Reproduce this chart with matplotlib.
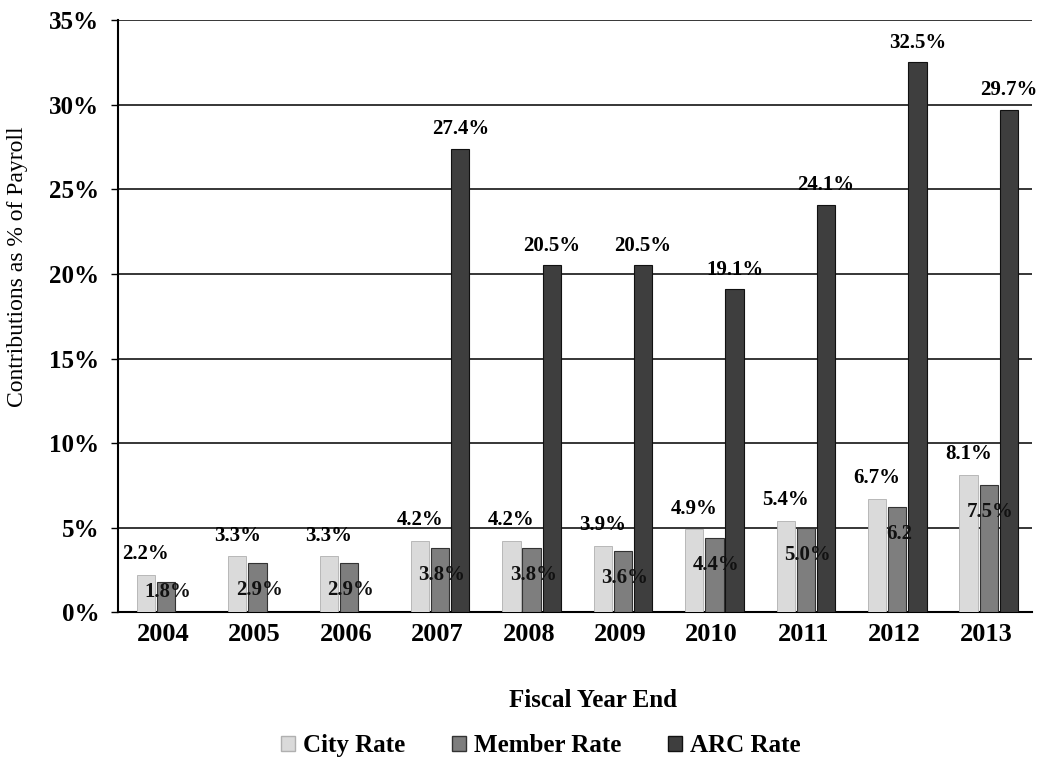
import matplotlib
matplotlib.use("Agg")
import matplotlib.pyplot as plt
from matplotlib.patches import Patch
import numpy as np

years = ["2004", "2005", "2006", "2007", "2008", "2009", "2010", "2011", "2012", "2013"]
city_rate = [2.2, 3.3, 3.3, 4.2, 4.2, 3.9, 4.9, 5.4, 6.7, 8.1]
member_rate = [1.8, 2.9, 2.9, 3.8, 3.8, 3.6, 4.4, 5.0, 6.2, 7.5]
arc_rate = [0, 0, 0, 27.4, 20.5, 20.5, 19.1, 24.1, 32.5, 29.7]
member_labels = ["1.8%", "2.9%", "2.9%", "3.8%", "3.8%", "3.6%", "4.4%", "5.0%", "6.2", "7.5%"]

plt.rcParams["font.family"] = ["Liberation Serif", "DejaVu Serif"]
plt.rcParams["font.weight"] = "bold"

fig = plt.figure(figsize=(10.4, 7.77), dpi=100)
ax = fig.add_axes([0.113, 0.212, 0.879, 0.762])

x = np.arange(len(years))
w = 0.2
off = 0.22
sh = 0.03
ax.bar(x - off + sh, city_rate, w, color="#dadada", edgecolor="#b0b0b0", linewidth=0.6, zorder=3)
ax.bar(x + sh, member_rate, w, color="#7e7e7e", edgecolor="#333333", linewidth=0.8, zorder=3)
ax.bar(x + off + sh, arc_rate, w, color="#3e3e3e", edgecolor="#111111", linewidth=0.8, zorder=3)

for i in range(len(years)):
    ax.annotate(f"{city_rate[i]:.1f}%", (x[i] - off + sh, city_rate[i]), xytext=(0, 15),
                textcoords="offset points", ha="center", va="center", fontsize=15, zorder=5)
    ax.text(x[i] + sh + 0.02, max(member_rate[i] - 1.6, 1.2), member_labels[i], ha="center",
            va="center", fontsize=15, color="#111111", zorder=5)
    if arc_rate[i] > 0:
        ax.annotate(f"{arc_rate[i]:.1f}%", (x[i] + off + sh, arc_rate[i]), xytext=(0, 14),
                    textcoords="offset points", ha="center", va="center", fontsize=15, zorder=5)

ax.set_ylim(0, 35)
ax.set_xlim(-0.5, len(years) - 0.5)
ax.set_yticks(np.arange(0, 36, 5))
ax.set_yticklabels([f"{v}%" for v in range(0, 36, 5)], fontsize=18)
ax.set_xticks(x)
ax.set_xticklabels(years, fontsize=19)
ax.tick_params(axis="x", length=0, pad=8)
ax.tick_params(axis="y", length=5, width=1, pad=8)
ax.yaxis.grid(True, color="black", linewidth=1.1, zorder=0)
ax.set_axisbelow(True)
for s in ["top", "right"]:
    ax.spines[s].set_visible(False)
ax.spines["left"].set_linewidth(1.5)
ax.spines["bottom"].set_linewidth(1.5)

ax.set_ylabel("Contributions as % of Payroll", fontsize=17, fontweight="normal")
ax.yaxis.set_label_coords(-0.098, 0.584)
ax.set_xlabel("Fiscal Year End", fontsize=18, fontweight="bold")
ax.xaxis.set_label_coords(0.52, -0.13)

handles = [
    Patch(facecolor="#dadada", edgecolor="#b0b0b0", label="City Rate"),
    Patch(facecolor="#7e7e7e", edgecolor="#333333", label="Member Rate"),
    Patch(facecolor="#3e3e3e", edgecolor="#111111", label="ARC Rate"),
]
fig.legend(handles=handles, loc="center", bbox_to_anchor=(0.52, 0.04), ncol=3, frameon=False,
           fontsize=18, handlelength=0.55, handleheight=0.55, handletextpad=0.3, columnspacing=1.9)

fig.savefig("out.png", dpi=100)
